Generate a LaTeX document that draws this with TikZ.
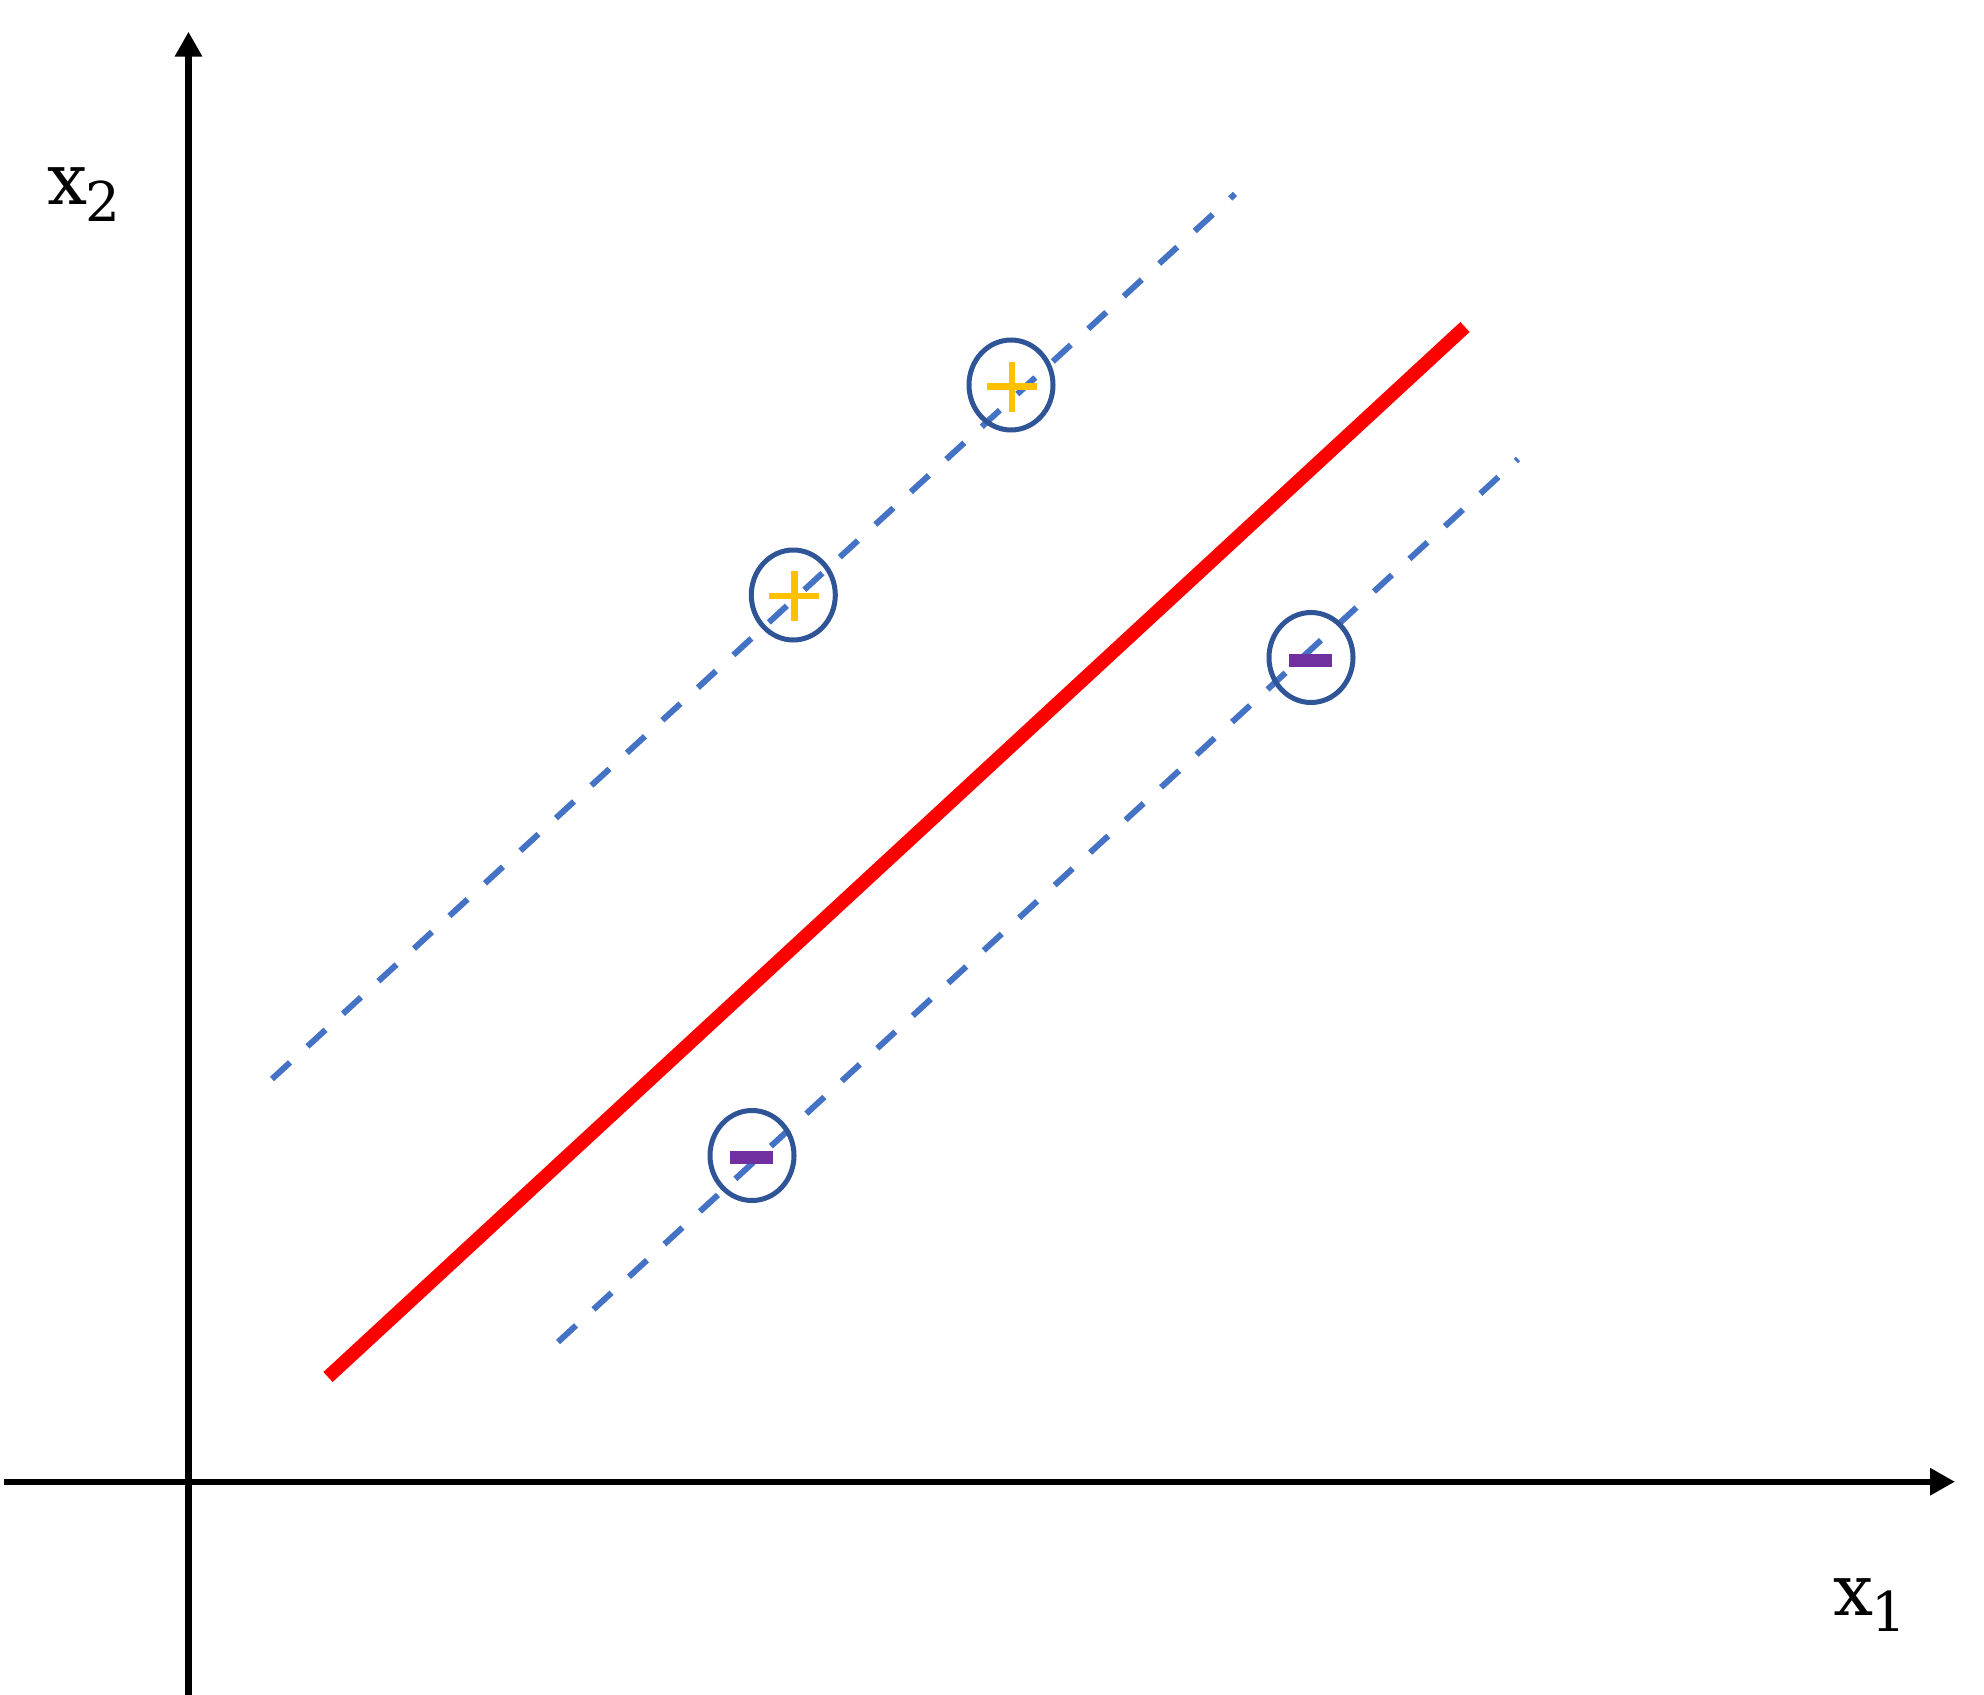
\documentclass[tikz,border=0pt]{standalone}
\usepackage{fontspec}
\usepackage{tikz}
\usetikzlibrary{arrows.meta,shapes.geometric}
\newfontfamily\labelfont{DejaVu Serif}
\newcommand{\axisname}[1]{{\labelfont\fontsize{35.5}{40}\selectfont x\hspace{-1pt}\raisebox{-8.3pt}{\fontsize{27.4}{30}\selectfont #1}}}
\definecolor{svblue}{HTML}{4472C4}
\definecolor{ringblue}{HTML}{2F5597}
\definecolor{posyellow}{HTML}{FFC000}
\definecolor{negpurple}{HTML}{7030A0}
\definecolor{sepred}{HTML}{FF0000}

\begin{document}
\begin{tikzpicture}[x=0.5pt,y=-0.5pt]
    \def\ax{188.5}
    \def\ay{1481.7}

    \tikzstyle{axis}=[draw=black,line width=3.2pt,-{Triangle[length=12.5pt,width=13pt]}]
    \tikzstyle{axislabel}=[inner sep=0pt,anchor=base west]
    \tikzstyle{margin}=[draw=svblue,line width=3pt,dash pattern=on 12.25pt off 11.85pt]
    \tikzstyle{boundary}=[draw=sepred,line width=6.8pt]
    \tikzstyle{ring}=[ellipse,draw=ringblue,line width=2.5pt,minimum width=42pt,minimum height=45pt,inner sep=0pt]
    \tikzstyle{hbar}=[fill=posyellow,minimum width=25pt,minimum height=3.4pt,inner sep=0pt]
    \tikzstyle{vbar}=[fill=posyellow,minimum width=3.4pt,minimum height=25pt,inner sep=0pt]
    \tikzstyle{negbar}=[fill=negpurple,minimum width=21.3pt,minimum height=6.5pt,inner sep=0pt]

    \useasboundingbox (0,0) rectangle (1984,1695);

    % axes
    \coordinate (ybot) at (\ax,1695);
    \coordinate (ytop) at (\ax,31.7);
    \coordinate (xleft) at (4,\ay);
    \coordinate (xright) at (1955,\ay);

    \node[axislabel] (x2l) at (46.7,205) {\axisname{2}};
    \node[axislabel] (x1l) at (1833,1615) {\axisname{1}};

    % margins and separating line
    \coordinate (up0) at (272,1079);
    \coordinate (up1) at (1235,194);
    \coordinate (lo0) at (558,1342);
    \coordinate (lo1) at (1518,459);
    \coordinate (sep0) at (328,1377);
    \coordinate (sep1) at (1465,327);

    \draw [axis] (ybot) -- (ytop);
    \draw [axis] (xleft) -- (xright);

    \draw [margin] (up0) -- (up1);
    \draw [margin] (lo0) -- (lo1);
    \draw [boundary] (sep0) -- (sep1);

    % support vectors
    \node[ring] (p1) at (1011,385) {};
    \node[ring] (p2) at (793.3,595) {};
    \node[ring] (n1) at (1311,657.5) {};
    \node[ring] (n2) at (752,1155.5) {};

    \node[hbar] (p1h) at (1012,386.7) {};
    \node[vbar] (p1v) at (1012,386.7) {};
    \node[hbar] (p2h) at (794.3,596) {};
    \node[vbar] (p2v) at (794.3,596) {};
    \node[negbar] (n1b) at (1310.5,660.3) {};
    \node[negbar] (n2b) at (751.3,1157.5) {};

\end{tikzpicture}
\end{document}
